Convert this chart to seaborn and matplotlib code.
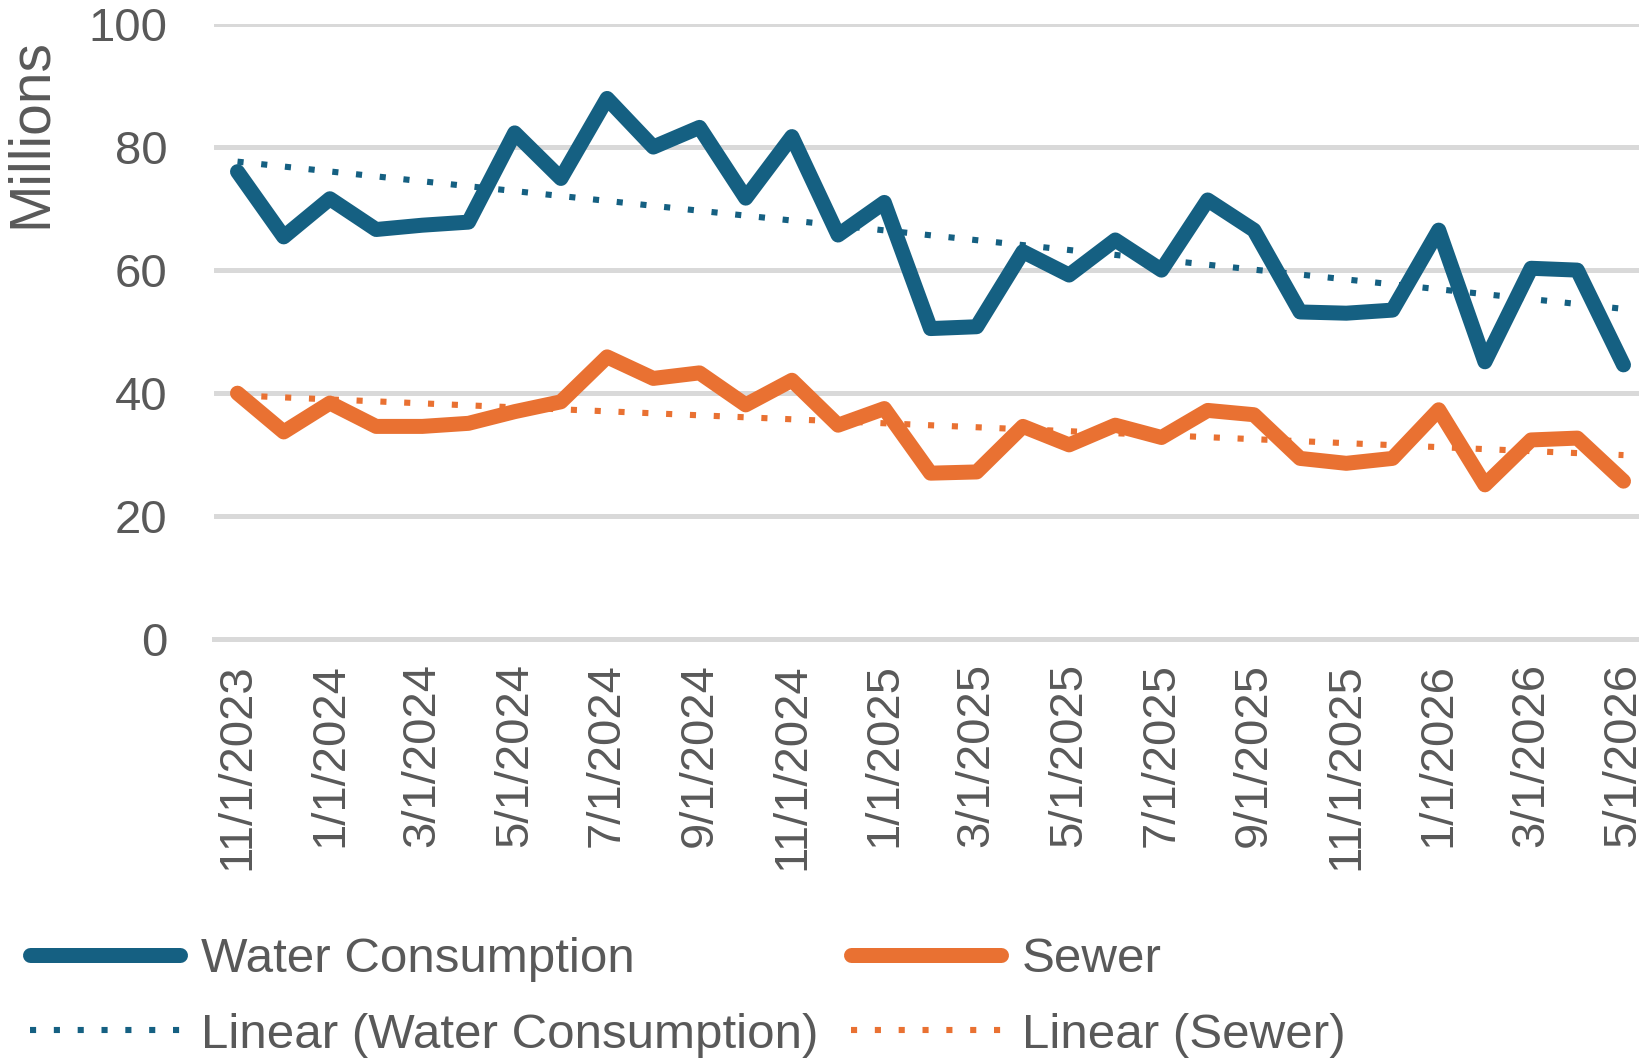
import numpy as np
import pandas as pd
import seaborn as sns
import matplotlib.pyplot as plt

# Monthly categories, Nov 2023 - May 2026
months = pd.date_range("2023-11-01", "2026-05-01", freq="MS")
month_labels = [f"{d.month}/{d.day}/{d.year}" for d in months]

# Values in millions
water = [76.0, 65.4, 71.6, 66.6, 67.3, 67.8, 82.3, 74.9, 87.9, 80.0, 83.2,
         71.7, 81.7, 65.7, 71.0, 50.5, 50.8, 63.0, 59.2, 64.9, 60.0, 71.4,
         66.5, 53.2, 53.0, 53.5, 66.5, 45.1, 60.3, 60.0, 44.6]
sewer = [40.0, 33.7, 38.4, 34.6, 34.6, 35.1, 37.0, 38.6, 45.9, 42.4, 43.3,
         38.1, 42.1, 34.8, 37.5, 27.0, 27.2, 34.6, 31.6, 34.8, 32.8, 37.2,
         36.5, 29.4, 28.6, 29.4, 37.3, 25.1, 32.4, 32.7, 25.7]

BLUE = "#156082"
ORANGE = "#E97132"
GRID = "#D9D9D9"
TEXT = "#595959"

sns.set_style("white")
plt.rcParams['font.family'] = ['Liberation Sans', 'DejaVu Sans']

df = pd.DataFrame({"pos": np.arange(len(months)), "water": water, "sewer": sewer})

# linear trendlines (Excel "Linear" trend)
for col in ["water", "sewer"]:
    slope, icpt = np.polyfit(df["pos"], df[col], 1)
    df[col + "_trend"] = slope * df["pos"] + icpt

W, H = 1639, 1059
fig = plt.figure(figsize=(W / 100, H / 100), dpi=100)
ax = fig.add_axes([214.4 / W, 1 - 639.3 / H, (1646.6 - 214.4) / W, (639.3 - 24) / H])

main_kw = dict(lw=10.8, solid_capstyle="round", solid_joinstyle="round")
dot_kw = dict(lw=4.4, linestyle=(0, (1.0, 2.9)), dash_capstyle="butt", zorder=5)

sns.lineplot(data=df, x="pos", y="water", ax=ax, color=BLUE, label="Water Consumption", **main_kw)
sns.lineplot(data=df, x="pos", y="sewer", ax=ax, color=ORANGE, label="Sewer", **main_kw)
sns.lineplot(data=df, x="pos", y="water_trend", ax=ax, color=BLUE,
             label="Linear (Water Consumption)", **dot_kw)
sns.lineplot(data=df, x="pos", y="sewer_trend", ax=ax, color=ORANGE,
             label="Linear (Sewer)", **dot_kw)

ax.set_xlim(-0.5, len(months) - 0.5)
ax.set_ylim(0, 100)
ax.set_yticks(range(0, 101, 20))
ax.set_xticks(df["pos"][::2])
ax.set_xticklabels(month_labels[::2], rotation=90)
ax.set_xticks(np.arange(-0.5, len(months) - 0.5, 2), minor=True)
ax.set_xlabel("")
ax.set_ylabel("")

ax.yaxis.grid(True, color=GRID, lw=3.6)
ax.set_axisbelow(True)
for s in ["top", "right", "left"]:
    ax.spines[s].set_visible(False)
ax.spines["bottom"].set_color(GRID)
ax.spines["bottom"].set_linewidth(3.6)

ax.tick_params(axis="y", length=0, pad=34, labelsize=34, labelcolor=TEXT)
ax.tick_params(axis="x", which="major", length=0, pad=17, labelsize=34, labelcolor=TEXT)
ax.tick_params(axis="x", which="minor", length=9, width=2.5, color=GRID, direction="out")

fig.text(31 / W, 1 - 133 / H, "Millions", rotation=90, ha="center", va="center",
         fontsize=41, color=TEXT)

lines = ax.get_lines()
handles = [lines[0], lines[2], lines[1], lines[3]]
ax.get_legend().remove()
leg = fig.legend(handles=handles, labels=[h.get_label() for h in handles],
                 ncol=2, loc="upper left", bbox_to_anchor=(30 / W, 1 - 937 / H),
                 frameon=False, fontsize=35.5, handlelength=3.05, handletextpad=0.42,
                 columnspacing=0.65, labelspacing=0.62, borderpad=0, borderaxespad=0)
for t in leg.get_texts():
    t.set_color(TEXT)

fig.savefig("out.png", dpi=100, facecolor="white")
